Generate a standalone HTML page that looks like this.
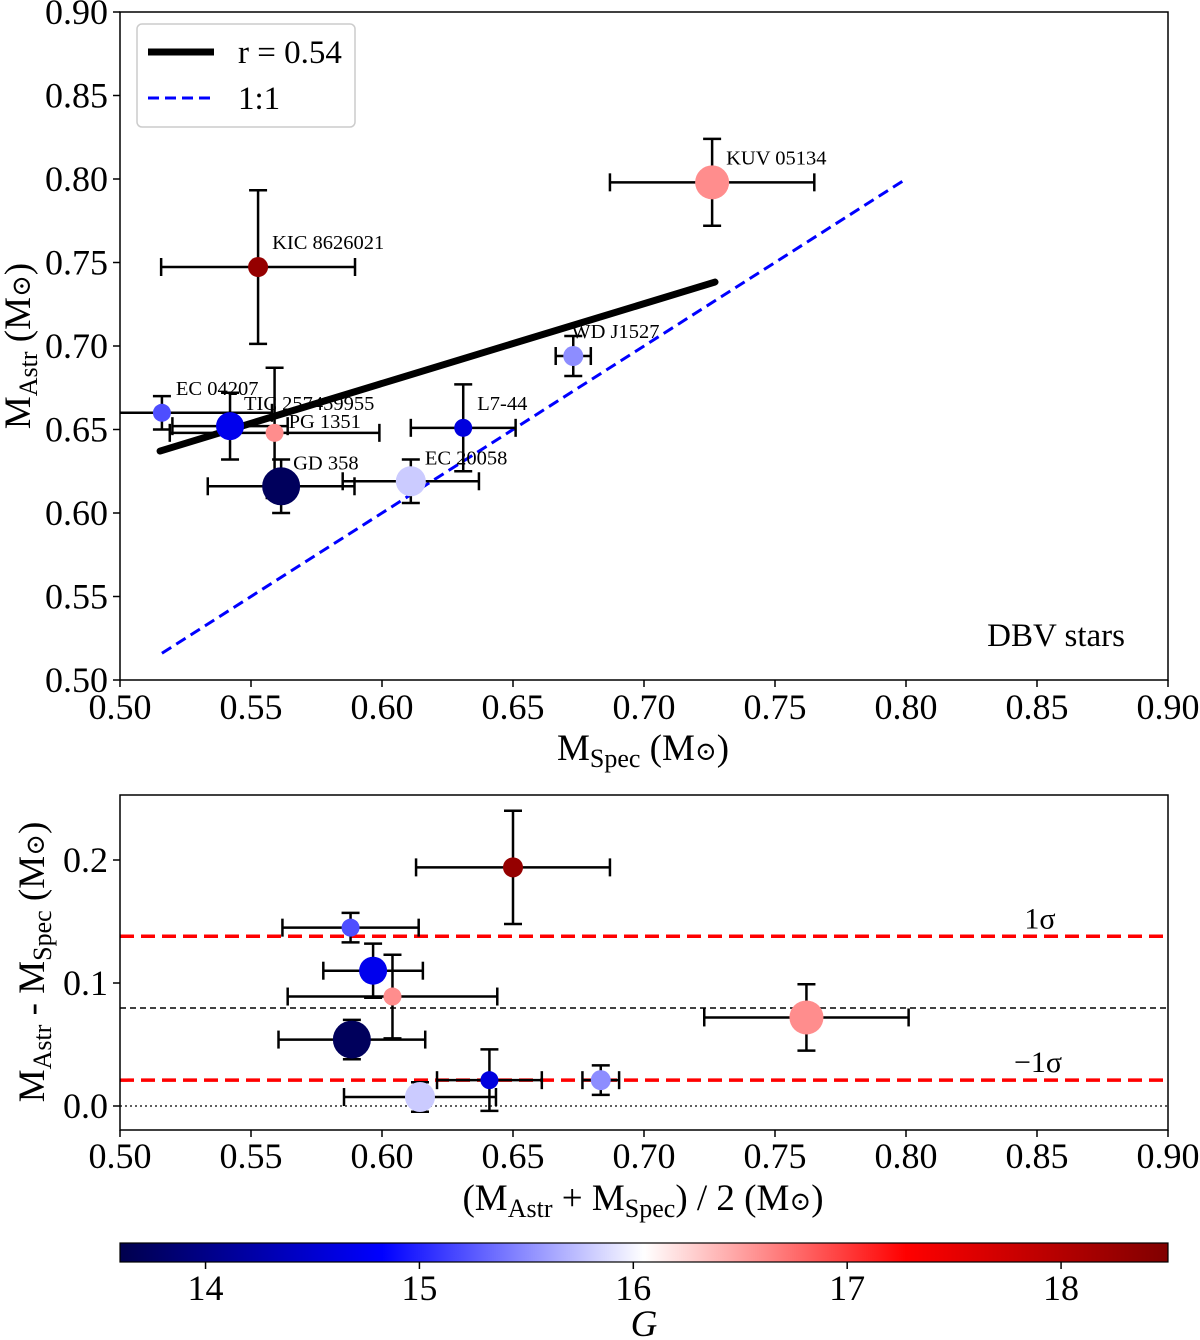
<!DOCTYPE html>
<html><head><meta charset="utf-8"><style>
body{margin:0;background:#fff}
svg{display:block;font-family:"Liberation Serif","DejaVu Serif",serif}
</style></head><body>
<svg id="s" width="1200" height="1340" xmlns="http://www.w3.org/2000/svg">
<defs>
<linearGradient id="seis" x1="0" x2="1" y1="0" y2="0">
<stop offset="0" stop-color="#00004d"/><stop offset="0.25" stop-color="#0000ff"/><stop offset="0.5" stop-color="#ffffff"/><stop offset="0.75" stop-color="#ff0000"/><stop offset="1" stop-color="#800000"/>
</linearGradient>
</defs>
</svg>
<script>
const names=["KIC 8626021","KUV 05134","WD J1527","L7-44","EC 04207","TIC 257459955","PG 1351","GD 358","EC 20058"];
const gmag=[18.3,16.6,15.5,14.6,15.2,14.7,16.6,13.7,15.8];
const sizes=[10,17,10,9,9,14,9,19,15];
const mSpec=[0.5527,0.726,0.673,0.631,0.516,0.542,0.559,0.5615,0.611];
const mSpecErr=[0.037,0.039,0.0067,0.02,0.042,0.022,0.04,0.028,0.026];
const mAstr=[0.7473,0.798,0.694,0.651,0.660,0.652,0.648,0.616,0.619];
const mAstrErr=[0.046,0.026,0.012,0.026,0.01,0.02,0.039,0.016,0.013];
const meanM=[0.650,0.762,0.6835,0.641,0.588,0.5966,0.604,0.5885,0.6145];
const meanErr=[0.037,0.039,0.007,0.02,0.026,0.019,0.04,0.028,0.029];
const diffM=[0.194,0.072,0.021,0.021,0.145,0.110,0.089,0.054,0.0073];
const diffErr=[0.046,0.027,0.012,0.025,0.012,0.022,0.034,0.016,0.012];
const fitX=[0.5153,0.7271], fitY=[0.6371,0.7383];
const oneX=[0.516,0.80];
const sigmaLines=[0.138,0.021], meanDiff=[0.0797];
const xTicks=[0.50,0.55,0.60,0.65,0.70,0.75,0.80,0.85,0.90];
const yTicksTop=[0.50,0.55,0.60,0.65,0.70,0.75,0.80,0.85,0.90];
const yTicksBot=[0.0,0.1,0.2];
const cTicks=[14,15,16,17,18];
const labelOff=[[14,-18],[14,-18],[-2,-18],[14,-18],[14,-18],[14,-16],[14,-5],[12,-17],[14,-17]];

const S=document.getElementById('s');const NS='http://www.w3.org/2000/svg';
function el(t,a,txt,p){const e=document.createElementNS(NS,t);for(const k in a)e.setAttribute(k,a[k]);if(txt!=null)e.textContent=txt;(p||S).appendChild(e);return e;}
const X=v=>120+(v-0.5)*2620;
const YT=v=>12+(0.9-v)*1670;
const YB=v=>1106-v*1230;
const C=v=>120+(v-13.6)*(1048/4.9);
function lerp(a,b,t){return a+(b-a)*t}
function cmap(g){let t=(g-13.6)/4.9;t=Math.max(0,Math.min(1,t));const st=[[0,0,77],[0,0,255],[255,255,255],[255,0,0],[128,0,0]];const s=Math.min(3,Math.floor(t*4));const f=t*4-s;const a=st[s],b=st[s+1];return `rgb(${Math.round(lerp(a[0],b[0],f))},${Math.round(lerp(a[1],b[1],f))},${Math.round(lerp(a[2],b[2],f))})`;}
function errbar(g,x,y,ex,ey,fx,fy){
 el('line',{x1:fx(x-ex),x2:fx(x+ex),y1:fy(y),y2:fy(y),stroke:'#000','stroke-width':2.5},null,g);
 el('line',{x1:fx(x),x2:fx(x),y1:fy(y-ey),y2:fy(y+ey),stroke:'#000','stroke-width':2.5},null,g);
 [x-ex,x+ex].forEach(v=>el('line',{x1:fx(v),x2:fx(v),y1:fy(y)-9,y2:fy(y)+9,stroke:'#000','stroke-width':2.5},null,g));
 [y-ey,y+ey].forEach(v=>el('line',{x1:fx(x)-9,x2:fx(x)+9,y1:fy(v),y2:fy(v),stroke:'#000','stroke-width':2.5},null,g));
}
const TF=36, AF=37;
// ===== TOP PANEL =====
const gT=el('g',{});
const clipT=el('clipPath',{id:'ct'});el('rect',{x:120,y:12,width:1048,height:668},null,clipT);
const pT=el('g',{'clip-path':'url(#ct)'},null,gT);
const one=el('line',{x1:X(oneX[0]),y1:YT(oneX[0]),x2:X(oneX[1]),y2:YT(oneX[1]),stroke:'#0000ff','stroke-width':3,'stroke-dasharray':'11,6'},null,pT);

const fit=el('line',{x1:X(fitX[0]),y1:YT(fitY[0]),x2:X(fitX[1]),y2:YT(fitY[1]),stroke:'#000','stroke-width':7,'stroke-linecap':'round'},null,pT);

names.forEach((n,i)=>{const g=el('g',{},null,pT);
 errbar(g,mSpec[i],mAstr[i],mSpecErr[i],mAstrErr[i],X,YT);});
names.forEach((n,i)=>{const c=el('circle',{cx:X(mSpec[i]),cy:YT(mAstr[i]),r:sizes[i],fill:cmap(gmag[i])},null,pT);
 
 const t=el('text',{x:X(mSpec[i])+labelOff[i][0],y:YT(mAstr[i])+labelOff[i][1],'font-size':20.5},n,pT);
 });
el('rect',{x:120,y:12,width:1048,height:668,fill:'none',stroke:'#000','stroke-width':1.5},null,gT);
xTicks.forEach(v=>{el('line',{x1:X(v),x2:X(v),y1:680,y2:687,stroke:'#000','stroke-width':1.5},null,gT);
 const t=el('text',{x:X(v),y:719,'font-size':TF,'text-anchor':'middle'},v.toFixed(2),gT);});
yTicksTop.forEach(v=>{el('line',{x1:113,x2:120,y1:YT(v),y2:YT(v),stroke:'#000','stroke-width':1.5},null,gT);
 const t=el('text',{x:108,y:YT(v)+12,'font-size':TF,'text-anchor':'end'},v.toFixed(2),gT);});
let t=el('text',{x:643,y:760,'font-size':AF,'text-anchor':'middle'},null,gT);
t.innerHTML='M<tspan font-size="26" dy="7">Spec</tspan><tspan dy="-7"> (M</tspan><tspan font-size="26">⊙</tspan>)';
t=el('text',{transform:'translate(30,346) rotate(-90)','font-size':AF,'text-anchor':'middle'},null,gT);
t.innerHTML='M<tspan font-size="26" dy="7">Astr</tspan><tspan dy="-7"> (M</tspan><tspan font-size="26">⊙</tspan>)';
t=el('text',{x:1125,y:646,'font-size':33,'text-anchor':'end'},'DBV stars',gT);
const lg=el('g',{},null,gT);
el('rect',{x:137,y:24,width:218,height:103,rx:5,fill:'#fff',stroke:'#ccc','stroke-width':1.5},null,lg);
el('line',{x1:148,x2:214,y1:52,y2:52,stroke:'#000','stroke-width':7},null,lg);
el('text',{x:238,y:63,'font-size':33},'r = 0.54',lg);
el('line',{x1:148,x2:214,y1:98,y2:98,stroke:'#0000ff','stroke-width':3,'stroke-dasharray':'11,6'},null,lg);
el('text',{x:238,y:109,'font-size':33},'1:1',lg);
// ===== BOTTOM PANEL =====
const gB=el('g',{});
const clipB=el('clipPath',{id:'cb'});el('rect',{x:120,y:795,width:1048,height:335},null,clipB);
const pB=el('g',{'clip-path':'url(#cb)'},null,gB);
let ln=el('line',{x1:120,x2:1168,y1:YB(0),y2:YB(0),stroke:'#000','stroke-width':1.2,'stroke-dasharray':'2,3'},null,pB);
ln=el('line',{x1:120,x2:1168,y1:YB(meanDiff[0]),y2:YB(meanDiff[0]),stroke:'#000','stroke-width':1.5,'stroke-dasharray':'6,4'},null,pB);
sigmaLines.forEach(v=>{const l=el('line',{x1:120,x2:1168,y1:YB(v),y2:YB(v),stroke:'#ff0000','stroke-width':3.5,'stroke-dasharray':'14,7'},null,pB);});
names.forEach((n,i)=>{const g=el('g',{},null,pB);
 errbar(g,meanM[i],diffM[i],meanErr[i],diffErr[i],X,YB);});
names.forEach((n,i)=>{const c=el('circle',{cx:X(meanM[i]),cy:YB(diffM[i]),r:sizes[i],fill:cmap(gmag[i])},null,pB);});
t=el('text',{x:1040,y:YB(sigmaLines[0])-8,'font-size':30,'text-anchor':'middle'},'1σ',gB);
t=el('text',{x:1038,y:YB(sigmaLines[1])-8,'font-size':30,'text-anchor':'middle'},'−1σ',gB);
el('rect',{x:120,y:795,width:1048,height:335,fill:'none',stroke:'#000','stroke-width':1.5},null,gB);
xTicks.forEach(v=>{el('line',{x1:X(v),x2:X(v),y1:1130,y2:1137,stroke:'#000','stroke-width':1.5},null,gB);
 const t=el('text',{x:X(v),y:1168,'font-size':TF,'text-anchor':'middle'},v.toFixed(2),gB);});
yTicksBot.forEach(v=>{el('line',{x1:113,x2:120,y1:YB(v),y2:YB(v),stroke:'#000','stroke-width':1.5},null,gB);
 const t=el('text',{x:108,y:YB(v)+12,'font-size':TF,'text-anchor':'end'},v.toFixed(1),gB);});
t=el('text',{x:643,y:1210,'font-size':AF,'text-anchor':'middle'},null,gB);
t.innerHTML='(M<tspan font-size="26" dy="7">Astr</tspan><tspan dy="-7"> + M</tspan><tspan font-size="26" dy="7">Spec</tspan><tspan dy="-7">) / 2 (M</tspan><tspan font-size="26">⊙</tspan>)';
t=el('text',{transform:'translate(44,962) rotate(-90)','font-size':AF,'text-anchor':'middle'},null,gB);
t.innerHTML='M<tspan font-size="26" dy="7">Astr</tspan><tspan dy="-7"> - M</tspan><tspan font-size="26" dy="7">Spec</tspan><tspan dy="-7"> (M</tspan><tspan font-size="26">⊙</tspan>)';
// ===== COLORBAR =====
const gC=el('g',{});
el('rect',{x:120,y:1243,width:1048,height:19,fill:'url(#seis)',stroke:'#000','stroke-width':1.2},null,gC);
cTicks.forEach(v=>{el('line',{x1:C(v),x2:C(v),y1:1262,y2:1269,stroke:'#000','stroke-width':1.5},null,gC);
 const t=el('text',{x:C(v),y:1300,'font-size':TF,'text-anchor':'middle'},String(v),gC);});
t=el('text',{x:644,y:1336,'font-size':AF,'font-style':'italic','text-anchor':'middle'},'G',gC);
</script>
</body></html>
